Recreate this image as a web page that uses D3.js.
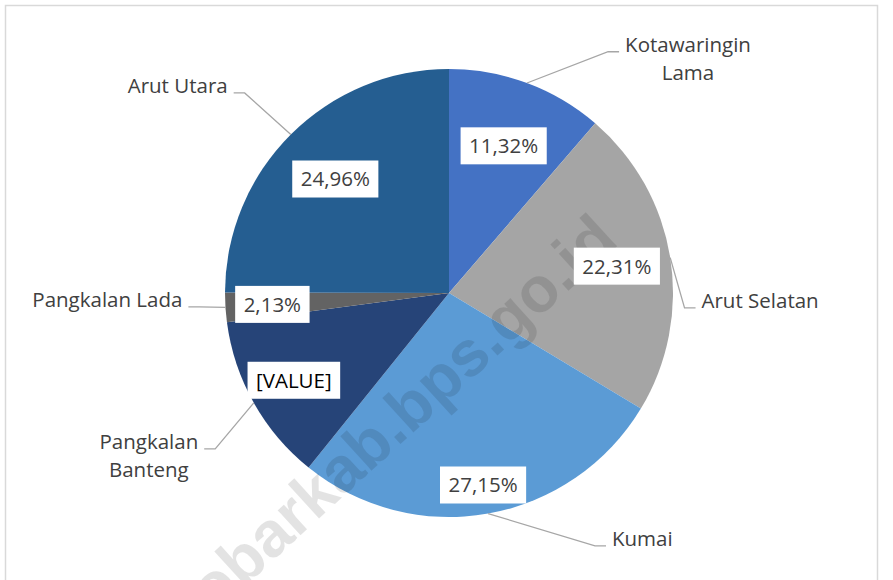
<!DOCTYPE html>
<html><head><meta charset="utf-8">
<script src="https://cdn.jsdelivr.net/npm/d3@7"></script>
<style>html,body{margin:0;padding:0;background:#fff;}svg{display:block;}</style>
</head><body>
<svg id="chart" width="893" height="580"></svg>
<script>
// ---- data ----
const categories = ["Kotawaringin Lama", "Arut Selatan", "Kumai", "Pangkalan Banteng", "Pangkalan Lada", "Arut Utara"];
const values = [11.32, 22.31, 27.15, 12.13, 2.13, 24.96];
const valueLabels = ["11,32%", "22,31%", "27,15%", "[VALUE]", "2,13%", "24,96%"];
const categoryLines = [["Kotawaringin", "Lama"], ["Arut Selatan"], ["Kumai"], ["Pangkalan", "Banteng"], ["Pangkalan Lada"], ["Arut Utara"]];

// ---- layout / style ----
const colors = ["#4472C4", "#A5A5A5", "#5B9BD5", "#264478", "#636363", "#255E91"];
const cx = 449, cy = 293, R = 224;
const labelR = [157, 170, 195, 178, 177, 161];
const elbow = [[33.4, 289], [93.6, 236], [150, 292], [236.3, 281], [266.8, 250], [314.4, 286]];
const fontFam = "'Open Sans', 'DejaVu Sans', sans-serif";
const fs = 20.5;

const svg = d3.select("#chart");
svg.append("rect").attr("x", 5.5).attr("y", 5.5).attr("width", 872).attr("height", 640)
  .attr("fill", "#fff").attr("stroke", "#d9d9d9").attr("stroke-width", 1.5);

const pie = d3.pie().sort(null).value(d => d)(values);
const arc = d3.arc().innerRadius(0).outerRadius(R);
const g = svg.append("g").attr("transform", `translate(${cx},${cy})`);
g.selectAll("path.slice").data(pie).join("path").attr("class", "slice")
  .attr("d", arc).attr("fill", (d, i) => colors[i]);

// watermark
const wm = svg.append("text").attr("transform", "translate(187,639) rotate(-42.4)")
  .attr("font-family", "'Liberation Sans', Arial, sans-serif").attr("font-weight", "bold")
  .attr("font-size", 64).attr("fill", "#000").attr("fill-opacity", 0.11)
  .text("kobarkab.bps.go.id");

const polar = (angDeg, r) => {
  const a = angDeg * Math.PI / 180;
  return [cx + r * Math.sin(a), cy - r * Math.cos(a)];
};

// leader lines and category labels
pie.forEach((d, i) => {
  const mid = (d.startAngle + d.endAngle) / 2;
  const s = [cx + R * Math.sin(mid), cy - R * Math.cos(mid)];
  const e = polar(elbow[i][0], elbow[i][1]);
  const right = e[0] > cx;
  const h = [e[0] + (right ? 11 : -11), e[1]];
  svg.append("path").attr("d", d3.line()([s, e, h]))
    .attr("fill", "none").attr("stroke", "#A6A6A6").attr("stroke-width", 1.3);
  const t = svg.append("text").attr("font-family", fontFam).attr("font-size", fs).attr("fill", "#404040");
  const lines = categoryLines[i];
  const tspans = lines.map((ln, k) => t.append("tspan").attr("y", e[1] + 7 - 7 + k * 28 + 0).text(ln));
  const widths = tspans.map(ts => ts.node().getComputedTextLength());
  const maxW = d3.max(widths);
  const left = right ? h[0] + 6 : h[0] - 6 - maxW;
  const center = left + maxW / 2;
  tspans.forEach(ts => ts.attr("x", center).attr("text-anchor", "middle"));
});

// value labels
pie.forEach((d, i) => {
  const mid = (d.startAngle + d.endAngle) / 2;
  const x = cx + labelR[i] * Math.sin(mid), y = cy - labelR[i] * Math.cos(mid);
  const lg = svg.append("g");
  const rect = lg.append("rect").attr("fill", "#fff");
  const t = lg.append("text").attr("x", x).attr("y", y).attr("dy", "0.36em")
    .attr("text-anchor", "middle").attr("font-family", fontFam).attr("font-size", fs)
    .attr("fill", valueLabels[i].startsWith("[") ? "#000" : "#404040").text(valueLabels[i]);
  const w = t.node().getComputedTextLength();
  rect.attr("x", x - w / 2 - 8.5).attr("y", y - 18.5).attr("width", w + 17).attr("height", 37);
});
</script>
</body></html>
